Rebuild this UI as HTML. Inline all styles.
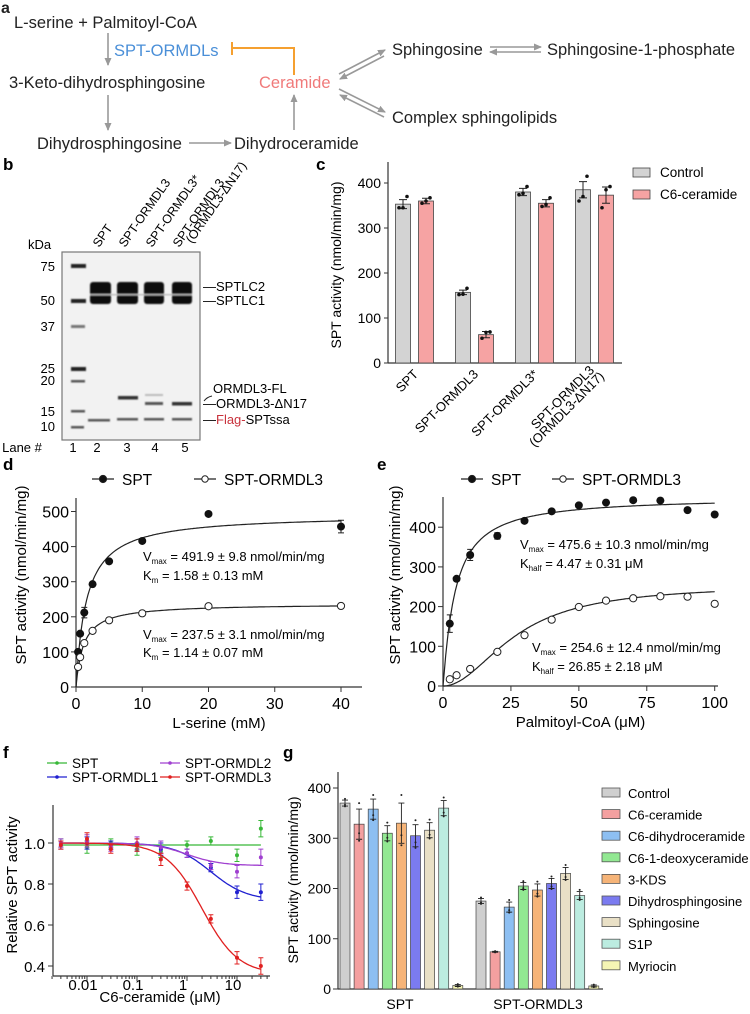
<!DOCTYPE html>
<html><head><meta charset="utf-8">
<style>
html,body{margin:0;padding:0;background:#fff;}
svg{display:block;font-family:"Liberation Sans",Arial,sans-serif;}
</style></head>
<body>
<svg id="fig" width="750" height="1014" viewBox="0 0 750 1014">
<defs>
<filter id="blur1" x="-20%" y="-50%" width="140%" height="200%"><feGaussianBlur stdDeviation="0.9"/></filter>
<marker id="ah" markerWidth="8" markerHeight="8" refX="7" refY="4" orient="auto" markerUnits="userSpaceOnUse"><path d="M0,0.5 L8,4 L0,7.5 Z" fill="#999"/></marker>
</defs>

<!-- Panel a -->
<g font-size="16.5" fill="#222">
<text x="1" y="13" font-size="16" font-weight="bold">a</text>
<text x="14" y="28">L-serine + Palmitoyl-CoA</text>
<text x="114" y="56" fill="#4a8fd8">SPT-ORMDLs</text>
<text x="9" y="88">3-Keto-dihydrosphingosine</text>
<text x="37" y="149">Dihydrosphingosine</text>
<text x="234" y="149">Dihydroceramide</text>
<text x="259" y="88" fill="#f07a7a">Ceramide</text>
<text x="392" y="55">Sphingosine</text>
<text x="547" y="55">Sphingosine-1-phosphate</text>
<text x="392" y="123">Complex sphingolipids</text>
<g stroke="#999" stroke-width="1.6" fill="none">
<line x1="108" y1="33" x2="108" y2="65" marker-end="url(#ah)"/>
<line x1="108" y1="95" x2="108" y2="130" marker-end="url(#ah)"/>
<line x1="189" y1="143" x2="231" y2="143" marker-end="url(#ah)"/>
<line x1="294" y1="130" x2="294" y2="95" marker-end="url(#ah)"/>
<line x1="339" y1="74" x2="385" y2="50" marker-end="url(#ah)"/>
<line x1="384" y1="56" x2="340" y2="79" marker-end="url(#ah)"/>
<line x1="339" y1="89" x2="385" y2="112" marker-end="url(#ah)"/>
<line x1="384" y1="117" x2="340" y2="95" marker-end="url(#ah)"/>
<line x1="490" y1="47" x2="541" y2="47" marker-end="url(#ah)"/>
<line x1="541" y1="52" x2="490" y2="52" marker-end="url(#ah)"/>
</g>
<g stroke="#f5a030" stroke-width="2" fill="none">
<polyline points="294,75 294,48 232,48"/>
<line x1="232" y1="42" x2="232" y2="55"/>
</g>
</g>

<!-- Panel b -->
<g>
<text x="3" y="170" font-size="17" font-weight="bold">b</text>
<text x="28" y="249" font-size="13">kDa</text>
<g font-size="13" text-anchor="end">
<text x="55" y="271">75</text><text x="55" y="305">50</text><text x="55" y="331">37</text>
<text x="55" y="373">25</text><text x="55" y="385">20</text><text x="55" y="416">15</text><text x="55" y="431">10</text>
</g>
<rect x="62" y="252" width="138" height="188" fill="#f2f2f2" stroke="#777" stroke-width="1.2"/>
<g filter="url(#blur1)">
<g fill="#222"><rect x="71" y="264" width="15" height="4"/><rect x="71" y="299" width="15" height="4"/><rect x="71" y="325" width="14" height="3" fill="#777"/><rect x="71" y="367" width="15" height="4"/><rect x="71" y="380" width="14" height="2.5" fill="#555"/><rect x="71" y="410" width="14" height="2.5" fill="#555"/><rect x="71" y="426" width="13" height="2.5" fill="#555"/></g>
<g fill="#111">
<rect x="90" y="282" width="21" height="22" rx="3"/><rect x="117" y="282" width="21" height="22" rx="3"/><rect x="144" y="282" width="20" height="22" rx="3"/><rect x="172" y="282" width="20" height="22" rx="3"/>
</g>
<g fill="#bbb"><rect x="90" y="294" width="102" height="1.4"/></g>
<rect x="118" y="396" width="20" height="3.5" fill="#333"/>
<rect x="145" y="394" width="18" height="2" fill="#bbb"/>
<rect x="145" y="402" width="18" height="3" fill="#555"/>
<rect x="172" y="402" width="20" height="3.5" fill="#333"/>
<rect x="88" y="419" width="22" height="2.5" fill="#555"/><rect x="117" y="418" width="21" height="2.5" fill="#555"/><rect x="144" y="418" width="20" height="2.5" fill="#555"/><rect x="172" y="418" width="20" height="2.5" fill="#555"/>
</g>
<g font-size="12.5">
<text transform="translate(99,248) rotate(-55)">SPT</text>
<text transform="translate(125,248) rotate(-55)">SPT-ORMDL3</text>
<text transform="translate(152,248) rotate(-55)">SPT-ORMDL3*</text>
<text transform="translate(179,248) rotate(-55)">SPT-ORMDL3</text>
<text transform="translate(192,244) rotate(-55)">(ORMDL3-ΔN17)</text>
</g>
<g font-size="13">
<text x="203" y="291">—SPTLC2</text>
<text x="203" y="305">—SPTLC1</text>
<text x="213" y="393">ORMDL3-FL</text>
<path d="M204,401 Q207,397 212,396" stroke="#222" fill="none"/>
<text x="203" y="408">—ORMDL3-ΔN17</text>
<text x="203" y="424">—<tspan fill="#c8323c">Flag-</tspan>SPTssa</text>
</g>
<g font-size="13" text-anchor="middle">
<text x="22" y="452">Lane #</text><text x="73" y="452">1</text><text x="97" y="452">2</text><text x="127" y="452">3</text><text x="155" y="452">4</text><text x="185" y="452">5</text>
</g>
</g>

<text x="316" y="170" font-size="17" font-weight="bold">c</text>
<text x="3" y="470" font-size="17" font-weight="bold">d</text>
<text x="377" y="470" font-size="17" font-weight="bold">e</text>
<text x="3" y="758" font-size="17" font-weight="bold">f</text>
<text x="283" y="758" font-size="17" font-weight="bold">g</text>

<g id="pc"></g><g id="pd"></g><g id="pe"></g><g id="pf"></g><g id="pg"></g>
</svg>

<script>
// ---------- Panel c data ----------
const cGroups = ["SPT","SPT-ORMDL3","SPT-ORMDL3*","SPT-ORMDL3 (ORMDL3-ΔN17)"];
const cControl = [353,157,380,385];
const cCeramide = [360,63,355,373];
const cControlErr = [10,5,8,18];
const cCeramideErr = [6,7,8,18];
const cControlPts = [[345,345,370],[152,153,166],[374,377,392],[360,370,415]];
const cCeramidePts = [[355,360,367],[55,68,69],[348,352,367],[345,385,392]];
const cTicks = [0,100,200,300,400];
// ---------- Panel d data ----------
const dSerine = [0.313,0.625,1.25,2.5,5,10,20,40];
const dSPT = [100,152,212,293,358,416,493,457];
const dSPTErr = [0,0,15,0,0,0,0,18];
const dORM = [57,85,125,160,190,210,230,231];
const dFitSPT = [491.9,1.58];
const dFitORM = [237.5,1.14];
const dXTicks = [0,10,20,30,40];
const dYTicks = [0,100,200,300,400,500];
// ---------- Panel e data ----------
const ePCoA = [2.5,5,10,20,30,40,50,60,70,80,90,100];
const eSPT = [157,270,330,378,416,440,455,462,468,467,443,432];
const eSPTErr = [22,0,14,8,0,0,0,0,0,0,0,0];
const eORM = [17,27,43,86,128,167,199,215,221,226,225,207];
const eFitSPT = [475.6,4.47,1.1];
const eFitORM = [254.6,26.85,2.0];
const eXTicks = [0,25,50,75,100];
const eYTicks = [0,100,200,300,400];
// ---------- Panel f data ----------
const fConc = [0.003,0.01,0.03,0.1,0.3,1,3,10,30];
const fSPT = [1.0,0.98,1.0,0.97,0.96,0.99,1.01,0.94,1.07];
const fORMDL1 = [0.99,1.0,0.99,0.99,0.97,0.95,0.88,0.76,0.76];
const fORMDL2 = [1.0,1.01,0.98,1.0,0.98,0.95,0.89,0.86,0.93];
const fORMDL3 = [0.99,1.02,0.97,0.99,0.92,0.79,0.63,0.44,0.40];
const fErr = [0.02,0.03,0.02,0.03,0.03,0.02,0.02,0.03,0.04];
const fFits = [[0.99,0.99,1,1],[1.0,0.72,3,1.2],[1.0,0.89,1,1.3],[1.0,0.36,2,1.2]];
const fXTicks = [0.01,0.1,1,10];
const fYTicks = [0.4,0.6,0.8,1.0];
// ---------- Panel g data ----------
const gTreat = ["Control","C6-ceramide","C6-dihydroceramide","C6-1-deoxyceramide","3-KDS","Dihydrosphingosine","Sphingosine","S1P","Myriocin"];
const gSPT = [370,328,358,310,330,305,316,360,7];
const gORM = [175,74,163,205,197,210,230,186,6];
const gSPTErr = [6,30,20,15,40,22,15,15,2];
const gORMErr = [5,1,10,7,12,10,12,8,2];
const gGroups = ["SPT","SPT-ORMDL3"];
const gYTicks = [0,100,200,300,400];

const NS="http://www.w3.org/2000/svg";
function mk(parent,tag,attrs,text){const e=document.createElementNS(NS,tag);for(const k in attrs)e.setAttribute(k,attrs[k]);if(text!==undefined)e.textContent=text;parent.appendChild(e);return e;}

// ================= Panel c =================
(function(){
const g=document.getElementById('pc');


const x0=388,x1=622,y0=363,k=0.45;
const Y=v=>y0-v*k;
const gx=i=>403+i*60;
let e=mk(g,'line',{x1:x0,y1:y0,x2:x1,y2:y0,stroke:'#333','stroke-width':1.2});


e=mk(g,'line',{x1:x0,y1:y0,x2:x0,y2:162,stroke:'#333','stroke-width':1.2});


cTicks.forEach(t=>{mk(g,'line',{x1:x0-4,y1:Y(t),x2:x0,y2:Y(t),stroke:'#333'});
e=mk(g,'text',{x:x0-7,y:Y(t)+5,'font-size':14,'text-anchor':'end'},t);

});
e=mk(g,'text',{transform:'translate(341,265) rotate(-90)','font-size':14,'text-anchor':'middle'},'SPT activity (nmol/min/mg)');


const series=[[cControl,cControlErr,cControlPts,'#d3d3d3',0],[cCeramide,cCeramideErr,cCeramidePts,'#f6a3a3',23]];
series.forEach(([vals,errs,pts,col,off],si)=>{
vals.forEach((v,i)=>{const cx=gx(i)+off;
e=mk(g,'rect',{x:cx-7.5,y:Y(v),width:15,height:v*k,fill:col,stroke:'#444','stroke-width':0.8});


const ye1=Y(v+errs[i]),ye2=Y(v-errs[i]);
mk(g,'path',{d:`M${cx},${ye1}V${ye2}M${cx-4},${ye1}H${cx+4}M${cx-4},${ye2}H${cx+4}`,stroke:'#222',fill:'none'});
pts[i].forEach((p,j)=>{e=mk(g,'circle',{cx:cx+(j-1)*4,cy:Y(p),r:1.8,fill:'#111'});

});
});});
cGroups.forEach((n,i)=>{const cx=gx(i)+16;
if(i<3){e=mk(g,'text',{transform:`translate(${cx},${y0+12}) rotate(-45)`,'font-size':13,'text-anchor':'end'},n);}
else{e=mk(g,'text',{transform:`translate(${cx-4},${y0+8}) rotate(-45)`,'font-size':13,'text-anchor':'end'},'SPT-ORMDL3');


e=mk(g,'text',{transform:`translate(${cx+6},${y0+14}) rotate(-45)`,'font-size':13,'text-anchor':'end'},'(ORMDL3-ΔN17)');}

});
[['Control','#d3d3d3'],['C6-ceramide','#f6a3a3']].forEach(([n,c],i)=>{
e=mk(g,'rect',{x:633,y:168+i*22,width:17,height:9,fill:c,stroke:'#444','stroke-width':0.8});


e=mk(g,'text',{x:660,y:177+i*22,'font-size':13.5},n);

});
})();

// ================= Panel d / e (kinetics) =================
function kinetics(id,name,xs,s1,s1e,s2,xT,yT,X,Y,xTitle,fit1,fit2,xmax,ymax,axL,axR,axB,axT,legY,lx1,lx2,ann,cx,cy){
const g=document.getElementById(id);


let e=mk(g,'line',{x1:axL,y1:axB,x2:axR,y2:axB,stroke:'#333','stroke-width':1.2});


e=mk(g,'line',{x1:axL,y1:axB,x2:axL,y2:axT,stroke:'#333','stroke-width':1.2});


xT.forEach(t=>{mk(g,'line',{x1:X(t),y1:axB,x2:X(t),y2:axB+5,stroke:'#333'});
e=mk(g,'text',{x:X(t),y:axB+22,'font-size':16,'text-anchor':'middle'},t);

});
yT.forEach(t=>{mk(g,'line',{x1:axL-5,y1:Y(t),x2:axL,y2:Y(t),stroke:'#333'});
e=mk(g,'text',{x:axL-7,y:Y(t)+6,'font-size':16,'text-anchor':'end'},t);

});
e=mk(g,'text',{x:(axL+axR)/2,y:axB+41,'font-size':15,'text-anchor':'middle'},xTitle);


e=mk(g,'text',{transform:`translate(${cx},${cy}) rotate(-90)`,'font-size':15,'text-anchor':'middle'},'SPT activity (nmol/min/mg)');


[fit1,fit2].forEach((f,fi)=>{let d='';for(let i=0;i<=200;i++){const x=xmax*i/200;d+=(i?'L':'M')+X(x).toFixed(1)+','+Y(f(x)).toFixed(1);}
e=mk(g,'path',{d:d,stroke:'#222','stroke-width':1.2,fill:'none'});

});
xs.forEach((x,i)=>{if(s1e[i]){mk(g,'path',{d:`M${X(x)},${Y(s1[i]+s1e[i])}V${Y(s1[i]-s1e[i])}M${X(x)-3},${Y(s1[i]+s1e[i])}h6M${X(x)-3},${Y(s1[i]-s1e[i])}h6`,stroke:'#222',fill:'none'});}
e=mk(g,'circle',{cx:X(x),cy:Y(s1[i]),r:4,fill:'#111'});


e=mk(g,'circle',{cx:X(x),cy:Y(s2[i]),r:3.6,fill:'#fff',stroke:'#222','stroke-width':1});

});
[[lx1,'SPT',true],[lx2,'SPT-ORMDL3',false]].forEach(([lx,n,f])=>{
mk(g,'line',{x1:lx-11,y1:legY,x2:lx+11,y2:legY,stroke:'#222','stroke-width':1.2});
e=mk(g,'circle',{cx:lx,cy:legY,r:f?3.6:3.2,fill:f?'#111':'#fff',stroke:'#222'});


e=mk(g,'text',{x:lx+19,y:legY+6,'font-size':15.5},n);

});
ann.forEach(([x,y,a,sub,b])=>{e=mk(g,'text',{x:x,y:y,'font-size':13});


mk(e,'tspan',{},a);mk(e,'tspan',{'font-size':8,dy:3},sub);mk(e,'tspan',{dy:-3},b);});
}
kinetics('pd','panel-d-serine-kinetics',dSerine,dSPT,dSPTErr,dORM,dXTicks,dYTicks,
x=>76+x*6.625,y=>687-y*0.351,'L-serine (mM)',
x=>dFitSPT[0]*x/(dFitSPT[1]+x),x=>dFitORM[0]*x/(dFitORM[1]+x),40,500,76,362,687,498,479,103,205,
[[143,561,'V','max',' = 491.9 ± 9.8 nmol/min/mg'],[143,580,'K','m',' = 1.58 ± 0.13 mM'],
 [143,639,'V','max',' = 237.5 ± 3.1 nmol/min/mg'],[143,657,'K','m',' = 1.14 ± 0.07 mM']],26,575);
kinetics('pe','panel-e-palmitoyl-coa-kinetics',ePCoA,eSPT,eSPTErr,eORM,eXTicks,eYTicks,
x=>443+x*2.717,y=>686-y*0.397,'Palmitoyl-CoA (μM)',
x=>eFitSPT[0]*Math.pow(x,eFitSPT[2])/(Math.pow(eFitSPT[1],eFitSPT[2])+Math.pow(x,eFitSPT[2])),
x=>eFitORM[0]*Math.pow(x,eFitORM[2])/(Math.pow(eFitORM[1],eFitORM[2])+Math.pow(x,eFitORM[2])),
100,400,443,718,686,497,479,472,563,
[[520,549,'V','max',' = 475.6 ± 10.3 nmol/min/mg'],[520,568,'K','half',' = 4.47 ± 0.31 μM'],
 [532,652,'V','max',' = 254.6 ± 12.4 nmol/min/mg'],[532,671,'K','half',' = 26.85 ± 2.18 μM']],400,575);

// ================= Panel f =================
(function(){
const g=document.getElementById('pf');


const X=c=>187+Math.log10(c)*50, Y=v=>843-(v-1)*205;
const axL=53,axB=976,axR=270;
let e=mk(g,'line',{x1:axL,y1:axB,x2:axR,y2:axB,stroke:'#333','stroke-width':1.2});


e=mk(g,'line',{x1:axL,y1:axB,x2:axL,y2:805,stroke:'#333','stroke-width':1.2});


fYTicks.forEach(t=>{mk(g,'line',{x1:axL-5,y1:Y(t),x2:axL,y2:Y(t),stroke:'#333'});
e=mk(g,'text',{x:axL-8,y:Y(t)+6,'font-size':15,'text-anchor':'end'},t.toFixed(1));

});
for(let d=-3;d<2;d++)for(let m=1;m<10;m++){const c=m*Math.pow(10,d);if(c<0.002||c>40)continue;mk(g,'line',{x1:X(c),y1:axB,x2:X(c),y2:axB+(m==1?5:3),stroke:'#333'});}
fXTicks.forEach(t=>{e=mk(g,'text',{x:X(t)-4,y:axB+14,'font-size':15,'text-anchor':'middle'},t);

});
e=mk(g,'text',{x:160,y:1002,'font-size':15,'text-anchor':'middle'},'C6-ceramide (μM)');


e=mk(g,'text',{transform:'translate(17,885) rotate(-90)','font-size':15,'text-anchor':'middle'},'Relative SPT activity');


const sets=[[fSPT,'#38b838','SPT',47,763],[fORMDL1,'#2020d0','SPT-ORMDL1',47,777],[fORMDL2,'#a040d0','SPT-ORMDL2',160,763],[fORMDL3,'#e02020','SPT-ORMDL3',160,777]];
sets.forEach(([vals,col,n,lx,ly],si)=>{const [top,bot,ic,h]=fFits[si];let d='';
for(let i=0;i<=120;i++){const lc=Math.log10(0.003)+(Math.log10(30)-Math.log10(0.003))*i/120;const c=Math.pow(10,lc);const v=bot+(top-bot)/(1+Math.pow(c/ic,h));d+=(i?'L':'M')+X(c).toFixed(1)+','+Y(v).toFixed(1);}
e=mk(g,'path',{d:d,stroke:col,'stroke-width':1.3,fill:'none'});


vals.forEach((v,i)=>{const x=X(fConc[i]);mk(g,'path',{d:`M${x},${Y(v+fErr[i])}V${Y(v-fErr[i])}M${x-2.5},${Y(v+fErr[i])}h5M${x-2.5},${Y(v-fErr[i])}h5`,stroke:col,fill:'none'});
e=mk(g,'circle',{cx:x,cy:Y(v),r:2,fill:col});

});
mk(g,'line',{x1:lx,y1:ly,x2:lx+20,y2:ly,stroke:col,'stroke-width':1.2});
mk(g,'circle',{cx:lx+10,cy:ly,r:1.8,fill:col});
e=mk(g,'text',{x:lx+25,y:ly+5,'font-size':13.5},n);

});
})();

// ================= Panel g =================
(function(){
const g=document.getElementById('pg');


const cols=['#cfcfcf','#f4a0a0','#8dbff2','#92e892','#f6b478','#7b7bf0','#e9e0c6','#bcece0','#f5f5b4'];
const axL=338,axB=989,axR=603,k=0.5025;
const Y=v=>axB-v*k;
let e=mk(g,'line',{x1:axL,y1:axB,x2:axR,y2:axB,stroke:'#333','stroke-width':1.2});


e=mk(g,'line',{x1:axL,y1:axB,x2:axL,y2:772,stroke:'#333','stroke-width':1.2});


gYTicks.forEach(t=>{mk(g,'line',{x1:axL-5,y1:Y(t),x2:axL,y2:Y(t),stroke:'#333'});
e=mk(g,'text',{x:axL-7,y:Y(t)+5,'font-size':14,'text-anchor':'end'},t);

});
e=mk(g,'text',{transform:'translate(298,880) rotate(-90)','font-size':14,'text-anchor':'middle'},'SPT activity (nmol/min/mg)');


[[gSPT,gSPTErr,340],[gORM,gORMErr,476]].forEach(([vals,errs,start],gi)=>{
vals.forEach((v,i)=>{const x=start+i*14.1,cx=x+5;
e=mk(g,'rect',{x:x,y:Y(v),width:10,height:v*k,fill:cols[i],stroke:'#444','stroke-width':0.7});


const a=Y(v+errs[i]),b=Y(v-errs[i]);
mk(g,'path',{d:`M${cx},${a}V${b}M${cx-3},${a}h6M${cx-3},${b}h6`,stroke:'#222',fill:'none','stroke-width':0.9});
[v+errs[i]*1.4,v-errs[i]*0.6,v-errs[i]*1.1].forEach(p=>{mk(g,'circle',{cx:cx,cy:Y(p),r:1,fill:'#222'});});
});
e=mk(g,'text',{x:gi?538:400,y:1009,'font-size':14,'text-anchor':'middle'},gGroups[gi]);

});
gTreat.forEach((n,i)=>{const y=793+i*21.6;
e=mk(g,'rect',{x:602,y:y-5,width:18,height:9,fill:cols[i],stroke:'#555','stroke-width':0.8});


e=mk(g,'text',{x:628,y:y+5,'font-size':13},n);

});
})();
</script>
</body></html>
